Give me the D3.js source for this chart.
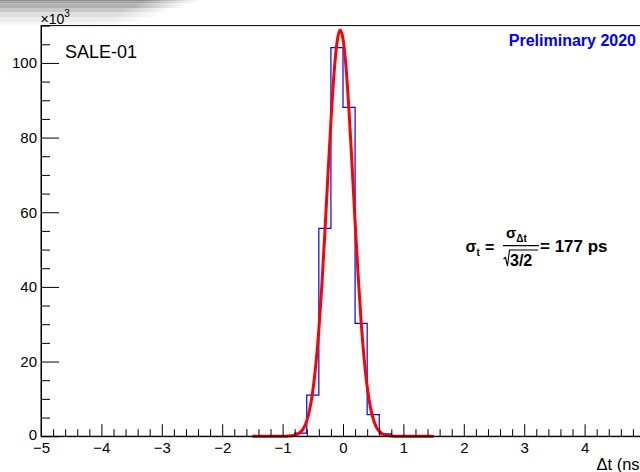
<!DOCTYPE html>
<html>
<head>
<meta charset="utf-8">
<script src="https://cdn.jsdelivr.net/npm/d3@7"></script>
<style>
  html, body { margin: 0; padding: 0; background: #fff; }
  svg { display: block; font-family: "Liberation Sans", Arial, Helvetica, sans-serif; }
</style>
</head>
<body>
<svg id="chart" width="640" height="472"></svg>
<script>
// ---------- data (counts in units of 10^3) ----------
const binLow   = [-1.0, -0.8, -0.6, -0.4, -0.2, 0.0, 0.2, 0.4, 0.6, 0.8];
const binWidth = 0.2;
const counts   = [0.0, 0.8, 11.0, 55.7, 104.1, 88.1, 30.2, 5.8, 0.6, 0.0];

// Gaussian fit curve (x in ns, y in 10^3)
const fitX = [-1.5, -1.0, -0.9, -0.8, -0.7, -0.65, -0.6, -0.55, -0.5, -0.45, -0.4, -0.35, -0.3, -0.25, -0.2, -0.15, -0.1, -0.05,
              0.0, 0.05, 0.1, 0.15, 0.2, 0.25, 0.3, 0.35, 0.4, 0.45, 0.5, 0.55, 0.6, 0.7, 0.8, 0.9, 1.0, 1.5];
const fitY = [0.0, 0.0, 0.05, 0.26, 1.15, 2.2, 4.1, 7.3, 12.1, 19.1, 28.5, 40.5, 54.6, 69.7, 84.3, 96.8, 105.4, 108.8,
              106.5, 98.9, 87.0, 72.6, 57.5, 43.2, 30.7, 20.8, 13.3, 8.06, 4.67, 2.5, 1.31, 0.30, 0.06, 0.0, 0.0, 0.0];

const xMajorTicks = [-5, -4, -3, -2, -1, 0, 1, 2, 3, 4];
const yMajorTicks = [0, 20, 40, 60, 80, 100];
const xDomain = [-5, 5];
const yDomain = [0, 110];

const titleText = "SALE-01";
const prelimText = "Preliminary 2020";
const xAxisTitle = "\u0394t (ns)";

// ---------- layout ----------
const svg = d3.select("#chart");
const L = 41, R = 645, T = 25.6, B = 436.2;

const x = d3.scaleLinear().domain(xDomain).range([L, R]);
const y = d3.scaleLinear().domain(yDomain).range([B, T]);

// top-left gradient artifact (window decoration)
const defs = svg.append("defs");
const strips = [
  {y0: 0,  y1: 1.5, c: "#8c8c8c", end: 200},
  {y0: 1.5,y1: 3.5, c: "#9c9c9c", end: 195},
  {y0: 3.5,y1: 8,   c: "#b0b0b0", end: 185},
  {y0: 8,  y1: 12.5,c: "#c9c9c9", end: 170},
  {y0: 12.5,y1: 17, c: "#dedede", end: 160},
  {y0: 17, y1: 22,  c: "#ececec", end: 150},
  {y0: 22, y1: 25.5,c: "#f6f6f6", end: 130}
];
strips.forEach((s, i) => {
  const g = defs.append("linearGradient").attr("id", "sg" + i)
    .attr("gradientUnits", "userSpaceOnUse")
    .attr("x1", 0).attr("x2", s.end).attr("y1", 0).attr("y2", 0);
  g.append("stop").attr("offset", 0).attr("stop-color", s.c);
  g.append("stop").attr("offset", 0.72).attr("stop-color", s.c);
  g.append("stop").attr("offset", 1).attr("stop-color", "#ffffff");
  svg.append("rect").attr("x", 0).attr("y", s.y0).attr("width", s.end).attr("height", s.y1 - s.y0)
    .attr("fill", "url(#sg" + i + ")");
});

// histogram (blue)
const histPts = [];
binLow.forEach((lo, i) => {
  histPts.push([lo, counts[i]]);
  histPts.push([lo + binWidth, counts[i]]);
});
svg.append("path")
  .datum(histPts)
  .attr("fill", "none")
  .attr("stroke", "#0000ff")
  .attr("stroke-width", 1.2)
  .attr("d", d3.line().x(d => x(d[0])).y(d => y(d[1])));

// fit (red)
const fitPts = fitX.map((v, i) => [v, fitY[i]]);
svg.append("path")
  .datum(fitPts)
  .attr("fill", "none")
  .attr("stroke", "#ff0000")
  .attr("stroke-width", 3)
  .attr("stroke-linejoin", "round")
  .attr("d", d3.line().curve(d3.curveMonotoneX).x(d => x(d[0])).y(d => y(d[1])));

// frame
svg.append("rect").attr("x", L).attr("y", T).attr("width", R - L).attr("height", B - T)
  .attr("fill", "none").attr("stroke", "#000").attr("stroke-width", 1);

// x axis
const xMinor = d3.range(-25, 26).map(k => k * 0.2).filter(v => !xMajorTicks.concat([5]).some(m => Math.abs(m - v) < 1e-9));
svg.append("g").attr("transform", `translate(0,${B})`)
  .call(d3.axisBottom(x).tickValues(xMinor).tickSize(-7).tickSizeOuter(0).tickFormat(""))
  .call(g => g.select(".domain").remove());
const xAx = svg.append("g").attr("transform", `translate(0,${B})`)
  .call(d3.axisBottom(x).tickValues(xMajorTicks).tickSize(-12).tickSizeOuter(0).tickPadding(6.5).tickFormat(d3.format("d")));
xAx.select(".domain").attr("stroke", "#000");
xAx.selectAll("text").attr("font-size", 15).attr("fill", "#000").attr("font-family", "Liberation Sans, Arial, sans-serif");

// y axis
const yMinor = d3.range(0, 111, 5).filter(v => v % 20 !== 0);
svg.append("g").attr("transform", `translate(${L},0)`)
  .call(d3.axisLeft(y).tickValues(yMinor).tickSize(-9).tickSizeOuter(0).tickFormat(""))
  .call(g => g.select(".domain").remove());
const yAx = svg.append("g").attr("transform", `translate(${L},0)`)
  .call(d3.axisLeft(y).tickValues(yMajorTicks).tickSize(-18).tickSizeOuter(0).tickPadding(4).tickFormat(d3.format("d")));
yAx.select(".domain").attr("stroke", "#000");
yAx.selectAll("text").attr("font-size", 15).attr("fill", "#000").attr("font-family", "Liberation Sans, Arial, sans-serif");
yAx.selectAll(".tick").filter(d => d === 0).select("text").attr("dy", "0.2em");

// exponent label
const ex = svg.append("text").attr("x", 40.5).attr("y", 24).attr("font-size", 14).attr("fill", "#000");
ex.append("tspan").text("\u00d710");
ex.append("tspan").attr("font-size", 10).attr("dy", -7).text("3");

// x-axis title (cut off by the right edge, as in the reference)
svg.append("text").attr("x", 596.5).attr("y", 470).attr("font-size", 16.5).attr("fill", "#000").text(xAxisTitle);

// title and prelim
svg.append("text").attr("x", 65).attr("y", 57.5).attr("font-size", 18).attr("fill", "#000").text(titleText);
svg.append("text").attr("x", 636).attr("y", 45.5).attr("text-anchor", "end").attr("font-size", 16)
  .attr("font-weight", "bold").attr("fill", "#0000ff").text(prelimText);

// equation
const eq = svg.append("g").attr("font-weight", "bold").attr("fill", "#000");
const t1 = eq.append("text").attr("x", 465.5).attr("y", 251.5).attr("font-size", 16);
t1.append("tspan").text("\u03c3");
t1.append("tspan").attr("font-size", 10).attr("dy", 4).text("t");
eq.append("text").attr("x", 485).attr("y", 253).attr("font-size", 16).text("=");
const num = eq.append("text").attr("x", 506).attr("y", 238).attr("font-size", 15);
num.append("tspan").text("\u03c3");
num.append("tspan").attr("font-size", 10).attr("dy", 4).text("\u0394t");
eq.append("line").attr("x1", 503).attr("x2", 539).attr("y1", 245.7).attr("y2", 245.7)
  .attr("stroke", "#000").attr("stroke-width", 1.3);
eq.append("path").attr("d", "M503.5,259 L505.5,257.5 L507.5,266 L509.5,250 L538,250")
  .attr("fill", "none").attr("stroke", "#000").attr("stroke-width", 1.1);
eq.append("text").attr("x", 510).attr("y", 266).attr("font-size", 16).text("3/2");
eq.append("text").attr("x", 540).attr("y", 252).attr("font-size", 17).text("= 177 ps");
</script>
</body>
</html>
